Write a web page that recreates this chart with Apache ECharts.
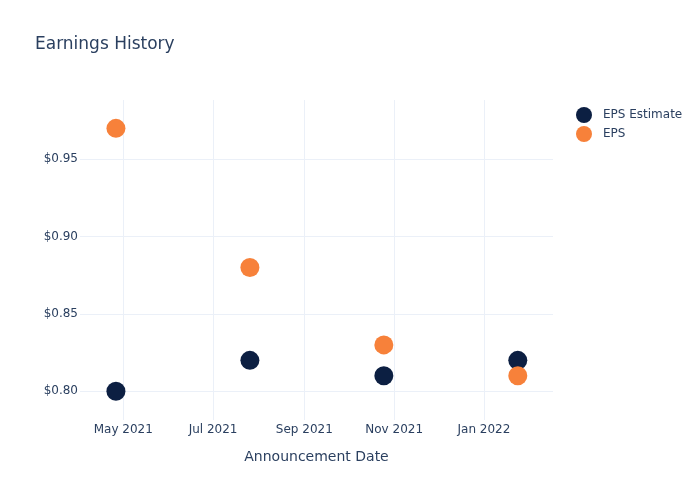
<!DOCTYPE html>
<html>
<head>
<meta charset="utf-8">
<script src="https://cdn.jsdelivr.net/npm/echarts@6/dist/echarts.min.js"></script>
<style>html,body{margin:0;padding:0;background:#fff}#c{width:700px;height:500px}</style>
</head>
<body>
<div id="c"></div>
<script>
var dates = ['2021-04-26', '2021-07-26', '2021-10-25', '2022-01-24'];
var epsEstimate = [0.80, 0.82, 0.81, 0.82];
var eps = [0.97, 0.88, 0.83, 0.81];
var xTicks = ['2021-05-01', '2021-07-01', '2021-09-01', '2021-11-01', '2022-01-01'];
var xTickLabels = ['May 2021', 'Jul 2021', 'Sep 2021', 'Nov 2021', 'Jan 2022'];
var yTicks = [0.80, 0.85, 0.90, 0.95];
var yTickLabels = ['$0.80', '$0.85', '$0.90', '$0.95'];

var FONT = 'DejaVu Sans';
var TXT = '#2a3f5f';
var GRID = '#ebf0f8';

function ts(d) { return new Date(d + 'T00:00:00Z').getTime(); }
var xTickTs = xTicks.map(ts);

var chart = echarts.init(document.getElementById('c'), null, {renderer: 'canvas'});
chart.setOption({
  animation: false,
  backgroundColor: '#fff',
  textStyle: {fontFamily: FONT},
  title: {
    text: 'Earnings History',
    left: 30, top: 31,
    textStyle: {fontFamily: FONT, fontSize: 17, fontWeight: 'normal', color: TXT}
  },
  legend: {
    orient: 'vertical',
    left: 571, top: 102,
    icon: 'circle',
    itemWidth: 28, itemHeight: 16, itemGap: 3,
    textStyle: {fontFamily: FONT, fontSize: 12, color: TXT},
    data: ['EPS Estimate', 'EPS']
  },
  grid: {left: 80, right: 147, top: 100, bottom: 80, containLabel: false},
  xAxis: {
    type: 'value',
    min: ts('2021-04-01') + 14 * 3600 * 1000,
    max: ts('2022-02-16') + 22 * 3600 * 1000,
    name: 'Announcement Date',
    nameLocation: 'middle',
    nameGap: 30,
    nameTextStyle: {fontFamily: FONT, fontSize: 14, color: TXT},
    axisLine: {show: false},
    axisTick: {show: false, customValues: xTickTs},
    axisLabel: {
      customValues: xTickTs,
      margin: 4,
      fontFamily: FONT, fontSize: 12, color: TXT,
      formatter: function (v) {
        for (var i = 0; i < xTickTs.length; i++) if (Math.abs(xTickTs[i] - v) < 1000) return xTickLabels[i];
        return '';
      }
    },
    splitLine: {show: true, lineStyle: {color: GRID, width: 1}}
  },
  yAxis: {
    type: 'value',
    min: 0.78145,
    max: 0.98834,
    axisLine: {show: false},
    axisTick: {show: false, customValues: yTicks},
    axisLabel: {
      customValues: yTicks,
      margin: 2,
      fontFamily: FONT, fontSize: 12, color: TXT,
      formatter: function (v) {
        for (var i = 0; i < yTicks.length; i++) if (Math.abs(yTicks[i] - v) < 1e-9) return yTickLabels[i];
        return '';
      }
    },
    splitLine: {show: true, lineStyle: {color: GRID, width: 1}}
  },
  series: [
    {
      name: 'EPS Estimate', type: 'scatter', symbolSize: 19,
      itemStyle: {color: '#0c1f42', opacity: 1},
      data: dates.map(function (d, i) { return [ts(d), epsEstimate[i]]; })
    },
    {
      name: 'EPS', type: 'scatter', symbolSize: 19,
      itemStyle: {color: '#f7813a', opacity: 1},
      data: dates.map(function (d, i) { return [ts(d), eps[i]]; })
    }
  ]
});
</script>
</body>
</html>
